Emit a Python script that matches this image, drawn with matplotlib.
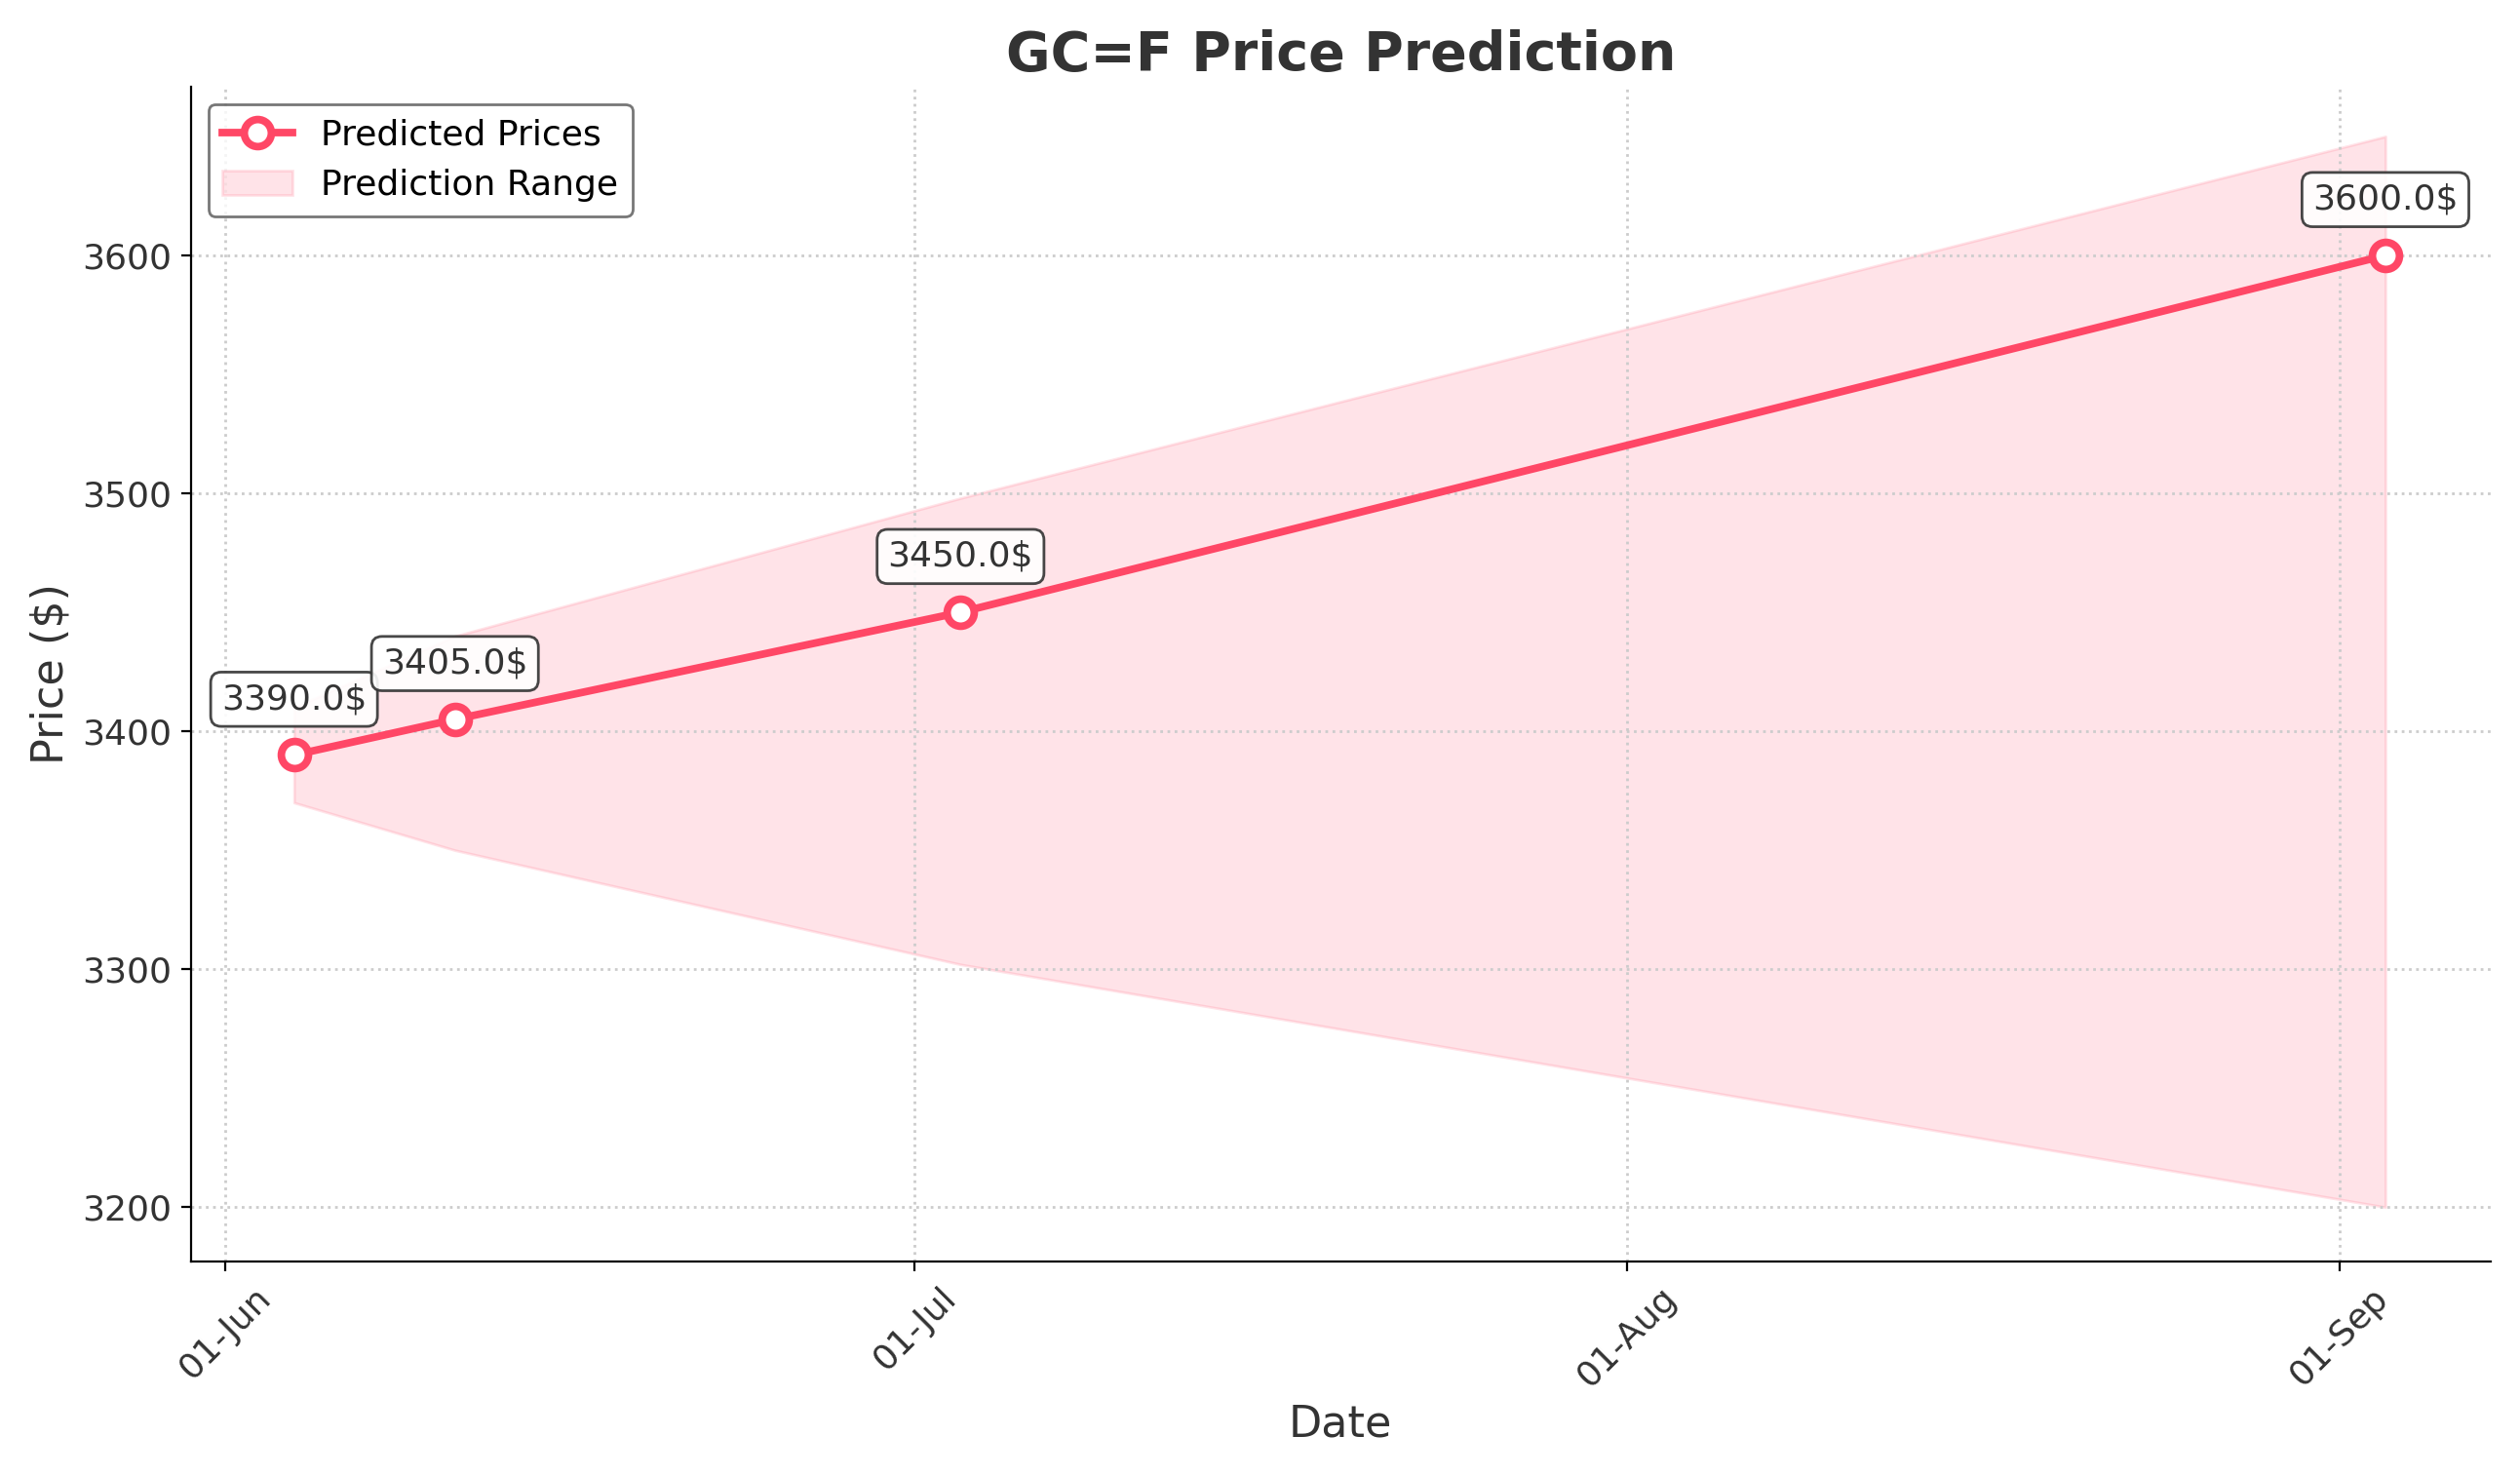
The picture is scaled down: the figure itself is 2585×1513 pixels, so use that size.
import matplotlib.pyplot as plt
import matplotlib.dates as mdates
import pandas as pd

# Predicted points and range
dates = pd.to_datetime(["2025-06-04", "2025-06-11", "2025-07-03", "2025-09-03"])
prices = [3390.0, 3405.0, 3450.0, 3600.0]
lower = [3370.0, 3350.0, 3302.0, 3200.0]
upper = [3410.0, 3440.0, 3498.0, 3650.0]

color = "#ff4766"

fig, ax = plt.subplots(figsize=(12.925, 7.565), dpi=200)
line, = ax.plot(dates, prices, color=color, lw=2.8, marker="o", ms=10, mfc="white", mew=2.8,
                label="Predicted Prices", zorder=3)
band = ax.fill_between(dates, lower, upper, color=color, alpha=0.15, label="Prediction Range")

for d, p in zip(dates, prices):
    ax.annotate(f"{p}$", (d, p), xytext=(0, 17), textcoords="offset points", ha="center",
                fontsize=13, color="#333333",
                bbox=dict(boxstyle="round,pad=0.3", fc="white", ec="#333333", alpha=0.9))

ax.set_title("GC=F Price Prediction", fontsize=20, fontweight="bold", color="#333333")
ax.set_xlabel("Date", fontsize=16, color="#333333")
ax.set_ylabel("Price ($)", fontsize=16, color="#333333")
ax.set_xticks(pd.to_datetime(["2025-06-01", "2025-07-01", "2025-08-01", "2025-09-01"]))
ax.xaxis.set_major_formatter(mdates.DateFormatter("%d-%b"))
ax.set_yticks([3200, 3300, 3400, 3500, 3600])
ax.set_ylim(3177, 3671)
ax.set_xlim(pd.Timestamp("2025-05-30 12:00"), pd.Timestamp("2025-09-07 14:00"))
plt.setp(ax.get_xticklabels(), rotation=45, fontsize=13, color="#333333")
plt.setp(ax.get_yticklabels(), fontsize=13, color="#333333")
ax.grid(True, ls=":", lw=1, color="#cccccc")
for s in ["top", "right"]:
    ax.spines[s].set_visible(False)
ax.legend([line, band], ["Predicted Prices", "Prediction Range"], loc="upper left",
          fontsize=13, edgecolor="#555555")
fig.tight_layout()
fig.savefig("out.png")
